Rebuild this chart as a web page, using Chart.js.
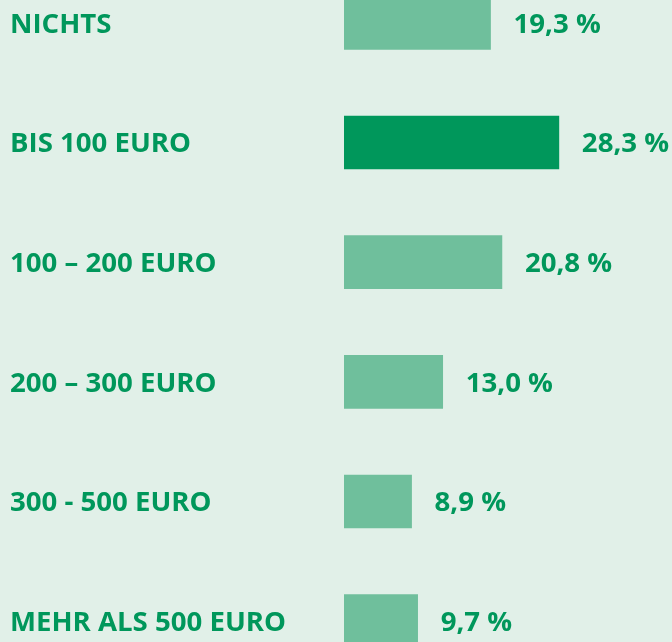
<!DOCTYPE html>
<html>
<head>
<meta charset="utf-8">
<script src="https://cdn.jsdelivr.net/npm/chart.js@4/dist/chart.umd.min.js"></script>
<style>
  html, body { margin: 0; padding: 0; }
  body { width: 672px; height: 642px; overflow: hidden; background: #e1f0e8; position: relative; }
  #wrap { position: absolute; left: 0; top: -37px; width: 672px; height: 718px; }
</style>
</head>
<body>
<div id="wrap"><canvas id="chart"></canvas></div>
<script>
// Daten
const kategorien = ["NICHTS", "BIS 100 EURO", "100 – 200 EURO", "200 – 300 EURO", "300 - 500 EURO", "MEHR ALS 500 EURO"];
const anteile = [19.3, 28.3, 20.8, 13.0, 8.9, 9.7];
const hervorgehoben = [false, true, false, false, false, false];

const GRUEN = "#00975b";
const HELLGRUEN = "#6fbf9c";
const SCHRIFT = "bold 27.6px 'Open Sans'";

// Werte rechts neben den Balken
const wertLabels = {
  id: "wertLabels",
  afterDatasetsDraw(chart) {
    const ctx = chart.ctx;
    const meta = chart.getDatasetMeta(0);
    ctx.save();
    ctx.font = SCHRIFT;
    ctx.fillStyle = GRUEN;
    ctx.textAlign = "left";
    ctx.textBaseline = "middle";
    meta.data.forEach((bar, i) => {
      const txt = anteile[i].toFixed(1).replace(".", ",") + " %";
      ctx.fillText(txt, bar.x + 23, bar.y + 2);
    });
    ctx.restore();
  }
};

new Chart(document.getElementById("chart"), {
  type: "bar",
  data: {
    labels: kategorien,
    datasets: [{
      data: anteile,
      backgroundColor: hervorgehoben.map(h => h ? GRUEN : HELLGRUEN),
      barThickness: 53
    }]
  },
  options: {
    indexAxis: "y",
    responsive: true,
    maintainAspectRatio: false,
    animation: false,
    layout: { padding: { left: 10, right: 0, top: 0, bottom: 0 } },
    plugins: { legend: { display: false }, tooltip: { enabled: false } },
    scales: {
      x: { display: false, min: 0, max: 43.2 },
      y: {
        grid: { display: false },
        border: { display: false },
        afterFit(scale) {
          scale.width = 334;
          scale.paddingTop = 0;
          scale.paddingBottom = 0;
        },
        ticks: {
          crossAlign: "far",
          color: GRUEN,
          padding: 0,
          labelOffset: 2,
          font: { family: "'Open Sans'", size: 27.6, weight: "bold" }
        }
      }
    }
  },
  plugins: [wertLabels]
});
</script>
</body>
</html>
